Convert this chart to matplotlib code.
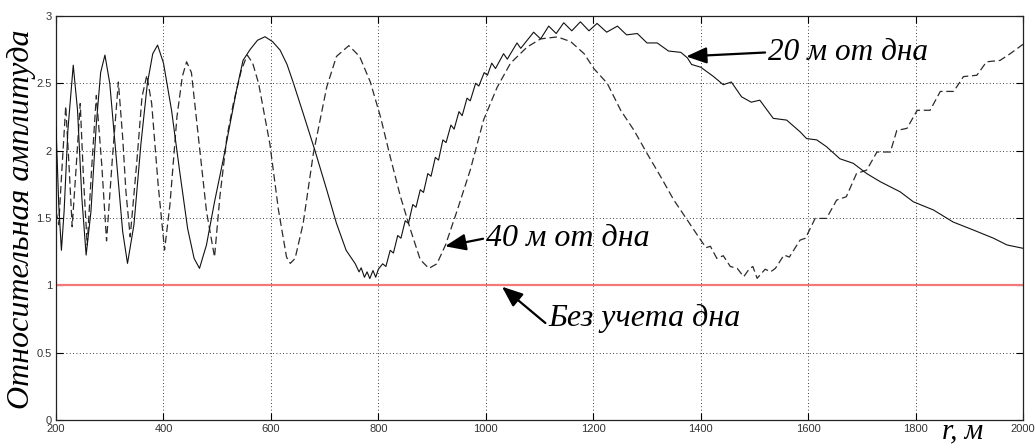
import matplotlib.pyplot as plt

# Data: relative amplitude vs range r (m)
r_20 = [200, 205, 210, 215, 222, 232, 240, 248, 256, 265,
        275, 283, 291, 300, 312, 324, 333, 345, 358, 370,
        380, 389, 400, 415, 430, 445, 457, 467, 480, 495,
        511, 525, 536, 548, 561, 575, 589, 603, 617, 630,
        642, 660, 682, 704, 722, 740, 757, 764, 768, 774,
        779, 784, 790, 795, 800, 808, 814, 822, 828, 836,
        842, 850, 856, 864, 870, 878, 884, 892, 898, 906,
        912, 920, 926, 935, 941, 950, 956, 965, 971, 981,
        987, 997, 1003, 1011, 1018, 1033, 1040, 1058, 1065, 1089,
        1102, 1117, 1131, 1145, 1160, 1176, 1192, 1207, 1225, 1245,
        1262, 1282, 1300, 1319, 1340, 1363, 1375, 1383, 1400, 1424,
        1442, 1457, 1476, 1494, 1510, 1535, 1560, 1585, 1597, 1616,
        1634, 1659, 1684, 1709, 1734, 1771, 1796, 1833, 1870, 1908,
        1945, 1970, 2000]
amp_20 = [2.17, 1.60, 1.26, 1.55, 2.15, 2.635, 2.30, 1.65, 1.225, 1.55,
          2.20, 2.58, 2.71, 2.50, 1.95, 1.40, 1.163, 1.45, 2.05, 2.50,
          2.72, 2.784, 2.65, 2.30, 1.85, 1.42, 1.20, 1.126, 1.30, 1.62,
          1.93, 2.22, 2.45, 2.67, 2.75, 2.82, 2.846, 2.81, 2.747, 2.64,
          2.50, 2.277, 2.00, 1.707, 1.46, 1.26, 1.16, 1.10, 1.13, 1.06,
          1.10, 1.05, 1.11, 1.06, 1.12, 1.16, 1.14, 1.26, 1.24, 1.37,
          1.35, 1.48, 1.46, 1.60, 1.58, 1.71, 1.69, 1.83, 1.81, 1.95,
          1.93, 2.08, 2.06, 2.19, 2.16, 2.29, 2.26, 2.39, 2.37, 2.50,
          2.48, 2.58, 2.56, 2.65, 2.61, 2.72, 2.68, 2.80, 2.76, 2.88,
          2.83, 2.925, 2.87, 2.95, 2.89, 2.957, 2.89, 2.945, 2.88, 2.925,
          2.86, 2.87, 2.80, 2.80, 2.74, 2.73, 2.69, 2.64, 2.62, 2.55,
          2.49, 2.51, 2.40, 2.36, 2.375, 2.24, 2.227, 2.14, 2.09, 2.08,
          2.03, 1.94, 1.906, 1.83, 1.77, 1.695, 1.62, 1.56, 1.47, 1.41,
          1.35, 1.30, 1.275]

r_40 = [200, 205, 210, 218, 224, 230, 237, 245, 251, 258,
        266, 275, 285, 294, 305, 316, 324, 330, 338, 350,
        360, 369, 378, 390, 402, 412, 425, 435, 443, 452,
        465, 480, 495, 505, 518, 530, 545, 556, 566, 577,
        598, 614, 629, 636, 645, 660, 679, 704, 722, 745,
        765, 785, 804, 822, 841, 860, 878, 894, 909, 925,
        947, 971, 996, 1021, 1046, 1077, 1102, 1133, 1158, 1183,
        1201, 1226, 1251, 1276, 1300, 1325, 1350, 1375, 1400, 1410,
        1418, 1430, 1442, 1455, 1468, 1480, 1490, 1497, 1505, 1520,
        1530, 1539, 1555, 1565, 1585, 1595, 1613, 1634, 1653, 1671,
        1690, 1709, 1728, 1753, 1765, 1784, 1803, 1827, 1846, 1871,
        1889, 1914, 1932, 1957, 1976, 2000]
amp_40 = [1.55, 1.45, 1.80, 2.33, 1.90, 1.435, 1.85, 2.35, 1.80, 1.30,
          1.85, 2.41, 1.90, 1.33, 1.95, 2.51, 2.10, 1.70, 1.36, 1.90,
          2.40, 2.56, 2.35, 1.75, 1.262, 1.60, 2.25, 2.55, 2.66, 2.58,
          2.10, 1.55, 1.21, 1.66, 2.10, 2.35, 2.60, 2.71, 2.65, 2.50,
          2.05, 1.56, 1.21, 1.163, 1.20, 1.46, 1.98, 2.475, 2.70, 2.78,
          2.70, 2.51, 2.25, 1.955, 1.66, 1.41, 1.19, 1.126, 1.16, 1.30,
          1.56, 1.856, 2.23, 2.47, 2.65, 2.77, 2.83, 2.845, 2.81, 2.72,
          2.61, 2.50, 2.30, 2.15, 1.98, 1.81, 1.633, 1.485, 1.336, 1.28,
          1.29, 1.20, 1.22, 1.14, 1.126, 1.064, 1.12, 1.14, 1.052, 1.12,
          1.10, 1.126, 1.225, 1.21, 1.336, 1.35, 1.497, 1.497, 1.633, 1.658,
          1.83, 1.856, 1.99, 1.99, 2.15, 2.166, 2.30, 2.30, 2.44, 2.44,
          2.55, 2.56, 2.66, 2.67, 2.72, 2.79]

no_bottom = 1.0

x_ticks = [200, 400, 600, 800, 1000, 1200, 1400, 1600, 1800, 2000]
y_ticks = [0, 0.5, 1, 1.5, 2, 2.5, 3]
y_labels = ["0", "0.5", "1", "1.5", "2", "2.5", "3"]

serif = "Liberation Serif"

fig = plt.figure(figsize=(10.36, 4.46), dpi=100)
ax = fig.add_axes([0.0541, 0.0583, 0.9334, 0.9058])

ax.axhline(no_bottom, color="#f47a7a", lw=1.6, zorder=2)
ax.plot(r_40, amp_40, color="#2b2b2b", lw=0.9, linestyle=(0, (6, 3)), zorder=3)
ax.plot(r_20, amp_20, color="#111111", lw=0.8, zorder=4)

ax.set_xlim(200, 2000)
ax.set_ylim(0, 3)
ax.set_xticks(x_ticks)
ax.set_xticklabels([str(t) for t in x_ticks])
ax.set_yticks(y_ticks)
ax.set_yticklabels(y_labels)
ax.tick_params(direction="in", length=5, width=0.8, top=True, right=True,
               labelsize=8, labelcolor="#333333", pad=3)
for lab in ax.get_xticklabels() + ax.get_yticklabels():
    lab.set_family("Liberation Sans")
ax.grid(True, color="black", linestyle=(0, (1, 3)), linewidth=0.6)
for s in ax.spines.values():
    s.set_linewidth(0.9)
    s.set_color("#222222")

# annotations
arrow = dict(arrowstyle="-|>,head_length=0.55,head_width=0.22", color="black",
             lw=1.6, shrinkA=0, shrinkB=0)
ax.annotate("20 м от дна", xy=(1373, 2.70), xytext=(1525, 2.73),
            fontsize=22.5, family=serif, style="italic", ha="left", va="center",
            arrowprops=dict(arrow, relpos=(0, 0.5)))
ax.annotate("40 м от дна", xy=(924, 1.29), xytext=(1000, 1.35),
            fontsize=23, family=serif, style="italic", ha="left", va="center",
            arrowprops=dict(arrow, relpos=(0, 0.5)))
ax.annotate("Без учета дна", xy=(1030, 0.99), xytext=(1116, 0.757),
            fontsize=23, family=serif, style="italic", ha="left", va="center",
            arrowprops=dict(arrow, relpos=(0, 0.25)))

fig.text(0.021, 0.509, "Относительная амплитуда", rotation=90, fontsize=23,
         family=serif, style="italic", ha="center", va="center")
fig.text(0.909, 0.016, "r, м", fontsize=21, family=serif, style="italic",
         ha="left", va="baseline")

fig.savefig("out.png", dpi=100)
